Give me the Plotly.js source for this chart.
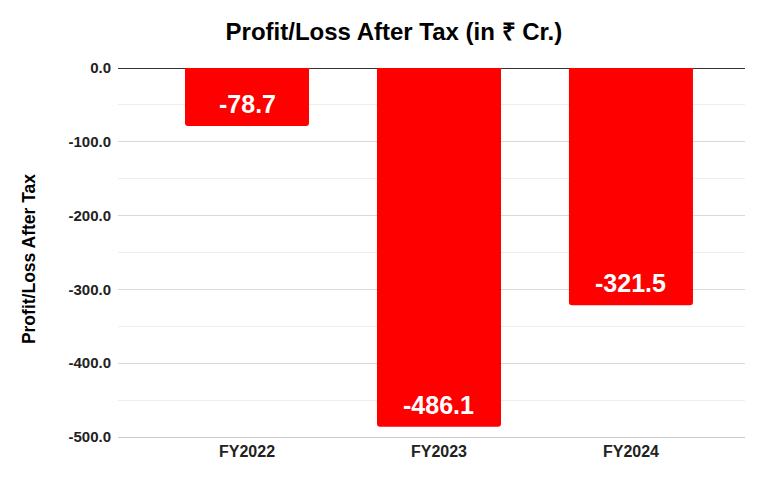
<!DOCTYPE html>
<html>
<head>
<meta charset="utf-8">
<script src="https://cdn.plot.ly/plotly-3.0.1.min.js"></script>
<style>html,body{margin:0;padding:0;background:#fff;}#chart{width:780px;height:478px;}</style>
</head>
<body>
<div id="chart"></div>
<script>
const categories = ["FY2022", "FY2023", "FY2024"];
const profitAfterTax = [-78.7, -486.1, -321.5];
const barLabels = ["-78.7", "-486.1", "-321.5"];
const yTickValues = [0, -100, -200, -300, -400, -500];
const yTickLabels = ["0.0", "-100.0", "-200.0", "-300.0", "-400.0", "-500.0"];
const yAxisTitle = "Profit/Loss After Tax";

const font = "Arial, 'Liberation Sans', sans-serif";

const trace = {
  type: "bar",
  x: categories,
  y: profitAfterTax,
  marker: {color: "#ff0000", cornerradius: 3, line: {width: 0}},
  width: 0.646,
  hoverinfo: "none"
};

const labelAnnotations = categories.map((c, i) => ({
  x: c,
  y: profitAfterTax[i],
  xref: "x",
  yref: "y",
  text: "<b>" + barLabels[i] + "</b>",
  showarrow: false,
  xanchor: "center",
  yanchor: "middle",
  yshift: 22,
  font: {family: font, size: 25, color: "#ffffff"}
}));

labelAnnotations.push({
  xref: "paper", yref: "paper",
  x: -0.142, y: 0.482,
  xanchor: "center", yanchor: "middle",
  textangle: -90,
  showarrow: false,
  text: "<b>" + yAxisTitle + "</b>",
  font: {family: font, size: 17.5, color: "#000000"}
});

const layout = {
  width: 780,
  height: 478,
  margin: {l: 118, r: 35, t: 68, b: 41},
  paper_bgcolor: "#ffffff",
  plot_bgcolor: "#ffffff",
  showlegend: false,
  font: {family: font, color: "#222222"},
  title: {
    text: "<b>Profit/Loss After Tax (in ₹ Cr.)</b>",
    font: {family: font, size: 24, color: "#000000"},
    x: 0.505, xanchor: "center", y: 0.933, yanchor: "middle"
  },
  annotations: labelAnnotations,
  xaxis: {
    type: "category",
    range: [-0.672, 2.594],
    showgrid: false,
    showline: true,
    linecolor: "#cccccc",
    linewidth: 1,
    ticks: "",
    tickfont: {family: font, size: 16, color: "#222222", weight: "bold"},
    fixedrange: true
  },
  yaxis: {
    range: [-500, 0],
    tickvals: yTickValues,
    ticktext: yTickLabels,
    tickfont: {family: font, size: 15, color: "#222222", weight: "bold"},
    ticks: "",
    ticklabelstandoff: 6,
    showgrid: true,
    gridcolor: "#d9d9d9",
    gridwidth: 1,
    zeroline: true,
    zerolinecolor: "#333333",
    zerolinewidth: 1,
    showline: false,
    minor: {dtick: 50, tick0: 0, showgrid: true, gridcolor: "#eeeeee", gridwidth: 1},
    fixedrange: true
  }
};

Plotly.newPlot("chart", [trace], layout, {displayModeBar: false, staticPlot: true});
</script>
</body>
</html>
